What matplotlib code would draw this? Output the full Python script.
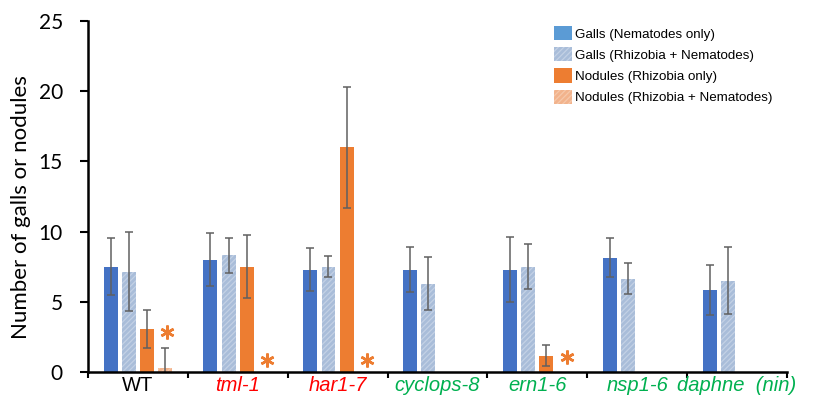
import matplotlib
matplotlib.use("Agg")
import matplotlib.pyplot as plt
import numpy as np
from matplotlib.patches import Patch

categories = ["WT", "tml-1", "har1-7", "cyclops-8", "ern1-6", "nsp1-6", "daphne  (nin)"]
cat_colors = ["black", "#FF0000", "#FF0000", "#00B050", "#00B050", "#00B050", "#00B050"]
cat_italic = [False, True, True, True, True, True, True]

galls_nem = [7.5, 8.0, 7.3, 7.3, 7.3, 8.15, 5.85]
galls_nem_err = [2.05, 1.9, 1.5, 1.6, 2.28, 1.37, 1.78]
galls_rn = [7.15, 8.3, 7.5, 6.3, 7.5, 6.65, 6.5]
galls_rn_err = [2.8, 1.27, 0.75, 1.9, 1.6, 1.1, 2.4]
nod_rhiz = [3.05, 7.5, 16.0, np.nan, 1.15, np.nan, np.nan]
nod_rhiz_err = [1.35, 2.25, 4.3, np.nan, 0.75, np.nan, np.nan]
nod_rn = [0.3, 0.0, 0.0, np.nan, np.nan, np.nan, np.nan]
nod_rn_err = [1.4, np.nan, np.nan, np.nan, np.nan, np.nan, np.nan]
# significance asterisks (group index, y value)
star_groups = [0, 1, 2, 4]
star_y = [2.85, 0.85, 0.85, 1.1]

series_labels = ["Galls (Nematodes only)", "Galls (Rhizobia + Nematodes)",
                 "Nodules (Rhizobia only)", "Nodules (Rhizobia + Nematodes)"]

plt.rcParams["hatch.linewidth"] = 0.9

fig = plt.figure(figsize=(8.14, 3.96), dpi=100)
ax = fig.add_axes([0.1081, 0.0606, 0.8587, 0.8864])

x = np.arange(len(categories))
w = 0.14
sp = 0.183
ekw = dict(ecolor="#606060", elinewidth=1.1, capsize=3, capthick=1.1)

gray_face, gray_hatch = "#A9BDD9", "#C3D1E5"
tan_face, tan_hatch = "#F2B38C", "#F6C8AA"

ax.bar(x - 1.5 * sp, galls_nem, w, color="#4472C4", yerr=galls_nem_err, error_kw=ekw, zorder=2)
ax.bar(x - 0.5 * sp, galls_rn, w, color=gray_face, edgecolor=gray_hatch, linewidth=0,
       hatch="//////", yerr=galls_rn_err, error_kw=ekw, zorder=2)
ax.bar(x + 0.5 * sp, nod_rhiz, w, color="#ED7D31", yerr=nod_rhiz_err, error_kw=ekw, zorder=2)
ax.bar(x + 1.5 * sp, nod_rn, w, color=tan_face, edgecolor=tan_hatch, linewidth=0,
       hatch="//////", yerr=nod_rn_err, error_kw=ekw, zorder=2)

ax.plot(x[star_groups] + 1.5 * sp + 0.02, star_y, linestyle="none", marker=(6, 2, 0),
        markersize=10, markeredgewidth=1.8, color="#ED7D31", zorder=3, clip_on=False)

ax.set_xlim(-0.5, 6.5)
ax.set_ylim(0, 25)
ax.set_yticks([0, 5, 10, 15, 20, 25])
ax.tick_params(axis="y", labelsize=15, direction="out", length=6, width=1.5, pad=12)
for lab in ax.get_yticklabels():
    lab.set_fontfamily("Lato")

ax.set_xticks(np.arange(-0.5, 7.0, 1.0))
ax.set_xticklabels([])
ax.tick_params(axis="x", direction="out", length=4, width=1.5)
for i, (c, col, it) in enumerate(zip(categories, cat_colors, cat_italic)):
    ax.text(x[i], -1.38, c, color=col, fontsize=14.5, ha="center", va="baseline",
            style="italic" if it else "normal", fontfamily="Liberation Sans",
            transform=ax.transData)

ax.spines["top"].set_visible(False)
ax.spines["right"].set_visible(False)
ax.spines["left"].set_linewidth(1.8)
ax.spines["bottom"].set_linewidth(1.8)

ax.set_ylabel("Number of galls or nodules", fontsize=16, fontfamily="Lato")
ax.yaxis.set_label_coords(-0.081, 0.47)

handles = [Patch(facecolor="#5B9BD5"),
           Patch(facecolor=gray_face, edgecolor=gray_hatch, hatch="//////", linewidth=0),
           Patch(facecolor="#ED7D31"),
           Patch(facecolor=tan_face, edgecolor=tan_hatch, hatch="//////", linewidth=0)]
leg = fig.legend(handles, series_labels, loc="upper left",
                 bbox_to_anchor=(554 / 814, 1 - 26 / 396), borderaxespad=0, borderpad=0,
                 frameon=False, prop={"family": "Liberation Sans", "size": 9.6},
                 handlelength=1.35, handleheight=1.25, handletextpad=0.2, labelspacing=0.5)

fig.savefig("out.png", dpi=100)
